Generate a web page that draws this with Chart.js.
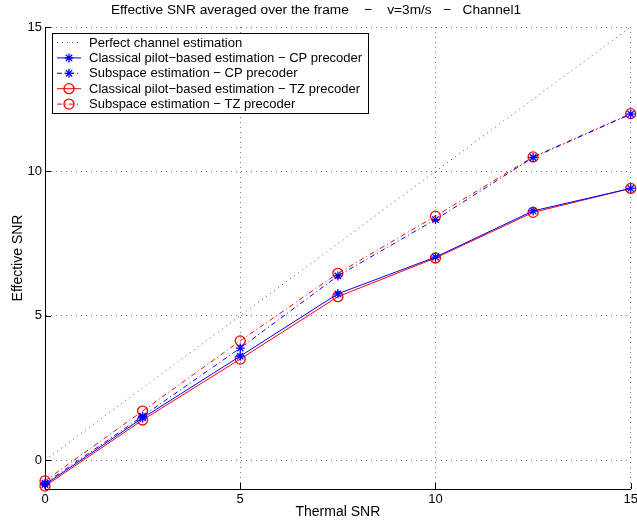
<!DOCTYPE html>
<html>
<head>
<meta charset="utf-8">
<script src="https://cdn.jsdelivr.net/npm/chart.js@4.4.1/dist/chart.umd.min.js"></script>
<style>
  html, body { margin: 0; padding: 0; background: #fff; }
  #wrap { width: 637px; height: 521px; }
</style>
</head>
<body>
<div id="wrap"><canvas id="snr"></canvas></div>
<script>
// thermal SNR sweep and the effective SNR of each estimator
const thermalSnr = [0, 2.5, 5, 7.5, 10, 12.5, 15];
const perfectEst = [0, 2.5, 5, 7.5, 10, 12.5, 15];
const classicalCp = [-0.85, 1.46, 3.6, 5.76, 7.03, 8.63, 9.41];
const subspaceCp = [-0.8, 1.52, 3.88, 6.38, 8.33, 10.48, 11.98];
const classicalTz = [-0.9, 1.39, 3.5, 5.66, 7.0, 8.58, 9.41];
const subspaceTz = [-0.72, 1.7, 4.13, 6.47, 8.45, 10.5, 12.0];

const xTicks = [0, 5, 10, 15];
const yTicks = [0, 5, 10, 15];

const FONT = '"Liberation Sans", Arial, Helvetica, sans-serif';
Chart.defaults.font.family = FONT;
Chart.defaults.color = '#000';

function pts(ys) {
  return thermalSnr.map((x, i) => ({ x: x, y: ys[i] }));
}

const dashDot = [5, 3, 1, 3];

const datasets = [
  { label: 'Perfect channel estimation', data: pts(perfectEst),
    borderColor: '#555', borderDash: [1, 4], pointRadius: 0 },
  { label: 'Classical pilot\u2212based estimation \u2212 CP precoder', data: pts(classicalCp),
    borderColor: '#0000ff', pointStyle: 'star', pointRadius: 4.5 },
  { label: 'Subspace estimation \u2212 CP precoder', data: pts(subspaceCp),
    borderColor: '#0000ff', borderDash: dashDot, pointStyle: 'star', pointRadius: 4.5 },
  { label: 'Classical pilot\u2212based estimation \u2212 TZ precoder', data: pts(classicalTz),
    borderColor: '#ff0000', pointStyle: 'circle', pointRadius: 5 },
  { label: 'Subspace estimation \u2212 TZ precoder', data: pts(subspaceTz),
    borderColor: '#ff0000', borderDash: dashDot, pointStyle: 'circle', pointRadius: 5 }
];
datasets.forEach(d => {
  d.borderWidth = 1;
  d.pointBorderColor = d.borderColor;
  d.pointBackgroundColor = 'rgba(0,0,0,0)';
  d.pointBorderWidth = 1.3;
  d.pointHoverRadius = d.pointRadius;
  d.tension = 0;
  d.clip = false;
});

// inward tick marks on the left and bottom axes
const innerTicks = {
  id: 'innerTicks',
  afterDraw(chart) {
    const { ctx, chartArea: a, scales: { x, y } } = chart;
    ctx.save();
    ctx.strokeStyle = '#000';
    ctx.lineWidth = 1;
    ctx.beginPath();
    yTicks.forEach(v => {
      const py = Math.round(y.getPixelForValue(v)) + 0.5;
      ctx.moveTo(a.left, py);
      ctx.lineTo(a.left + 6, py);
    });
    xTicks.forEach(v => {
      const px = Math.round(x.getPixelForValue(v)) + 0.5;
      ctx.moveTo(px, a.bottom);
      ctx.lineTo(px, a.bottom - 6);
    });
    ctx.stroke();
    ctx.restore();
  }
};

// boxed legend in the upper-left corner of the plot
const boxLegend = {
  id: 'boxLegend',
  afterDraw(chart) {
    const { ctx, chartArea: a } = chart;
    const left = a.left + 7, top = a.top + 6, w = 316, rowH = 15.4;
    const sets = chart.data.datasets;
    ctx.save();
    ctx.fillStyle = '#fff';
    ctx.fillRect(left, top, w, rowH * sets.length + 3);
    ctx.strokeStyle = '#000';
    ctx.lineWidth = 1;
    ctx.strokeRect(left + 0.5, top + 0.5, w, rowH * sets.length + 3);
    ctx.font = '13px ' + FONT;
    ctx.textBaseline = 'middle';
    sets.forEach((ds, i) => {
      const cy = top + 9 + i * rowH;
      ctx.strokeStyle = ds.borderColor;
      ctx.lineWidth = 1;
      ctx.setLineDash(ds.borderDash || []);
      ctx.beginPath();
      ctx.moveTo(left + 5, cy + 0.5);
      ctx.lineTo(left + 29, cy + 0.5);
      ctx.stroke();
      ctx.setLineDash([]);
      if (ds.pointRadius > 0) {
        ctx.fillStyle = 'rgba(0,0,0,0)';
        ctx.lineWidth = ds.pointBorderWidth;
        Chart.helpers.drawPoint(ctx, {
          pointStyle: ds.pointStyle, radius: ds.pointRadius, rotation: 0,
          borderWidth: ds.pointBorderWidth
        }, left + 17, cy + 0.5);
      }
      ctx.fillStyle = '#000';
      ctx.fillText(ds.label, left + 37, cy + 1);
    });
    ctx.restore();
  }
};

new Chart(document.getElementById('snr'), {
  type: 'line',
  data: { datasets: datasets },
  options: {
    responsive: true,
    maintainAspectRatio: false,
    animation: false,
    layout: { padding: { left: 0, right: 5, top: 0, bottom: 0 } },
    plugins: {
      legend: { display: false },
      tooltip: { enabled: false },
      title: {
        display: true,
        text: 'Effective SNR averaged over the frame    \u2212    v=3m/s   \u2212   Channel1',
        color: '#000',
        font: { size: 13.7, weight: 'normal' },
        padding: { top: 2.5, bottom: 8.06 }
      }
    },
    scales: {
      x: {
        type: 'linear', min: 0, max: 15,
        afterBuildTicks: s => { s.ticks = xTicks.map(v => ({ value: v })); },
        afterFit: s => { s.height = 32; s.paddingLeft = 0; s.paddingRight = 0; },
        grid: { color: '#777', lineWidth: 1, drawTicks: false },
        border: { display: true, color: '#000', width: 1, dash: [1, 4] },
        ticks: { color: '#000', padding: 3, maxRotation: 0, font: { size: 13 } },
        title: { display: true, text: 'Thermal SNR', color: '#000',
                 font: { size: 14 }, padding: { top: 0, bottom: 0.6 } }
      },
      y: {
        type: 'linear', min: -1, max: 15,
        afterBuildTicks: s => { s.ticks = yTicks.map(v => ({ value: v })); },
        afterFit: s => { s.width = 45; s.paddingTop = 0; s.paddingBottom = 0; },
        grid: { color: '#777', lineWidth: 1, drawTicks: false },
        border: { display: true, color: '#000', width: 1, dash: [1, 4] },
        ticks: { color: '#000', padding: 3, font: { size: 13 } },
        title: { display: true, text: 'Effective SNR', color: '#000',
                 font: { size: 14 }, padding: { top: 9.6, bottom: 0 } }
      }
    }
  },
  plugins: [innerTicks, boxLegend]
});
</script>
</body>
</html>
